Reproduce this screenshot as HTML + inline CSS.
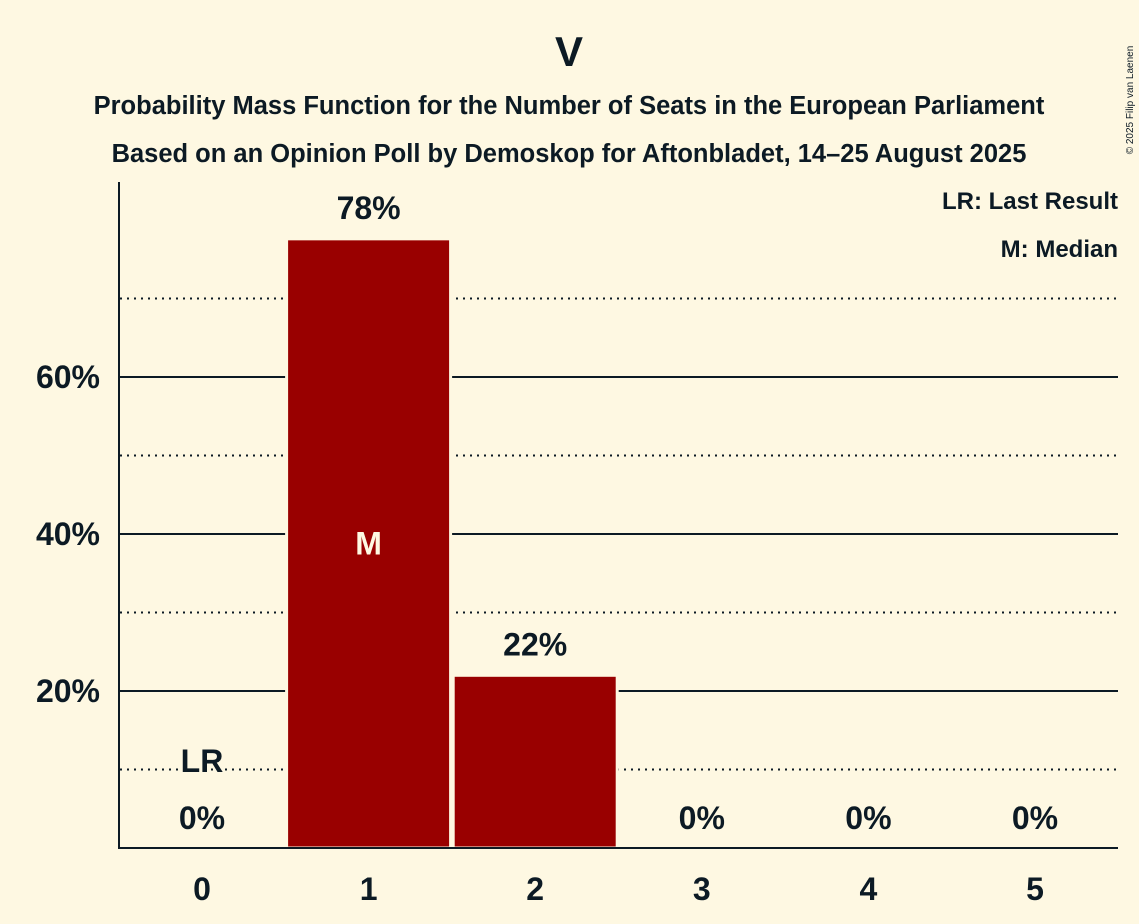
<!DOCTYPE html>
<html><head><meta charset="utf-8"><style>
body{margin:0;background:#fef8e2;}
svg{display:block;font-family:"Liberation Sans",sans-serif;font-weight:bold;fill:#0c1a24}
</style></head><body>
<svg id="c" width="1139" height="924">
<rect width="1139" height="924" fill="#fef8e2"/>
<text x="569" y="66" text-anchor="middle" font-size="42">V</text>
<text x="569" y="114" text-anchor="middle" font-size="25.5">Probability Mass Function for the Number of Seats in the European Parliament</text>
<text x="569" y="162" text-anchor="middle" font-size="25.5">Based on an Opinion Poll by Demoskop for Aftonbladet, 14–25 August 2025</text>
<text x="1118" y="209" text-anchor="end" font-size="24">LR: Last Result</text>
<text x="1118" y="257" text-anchor="end" font-size="24">M: Median</text>
<text x="1133" y="100" font-size="10" font-weight="normal" transform="rotate(-90 1133 100)" text-anchor="middle">© 2025 Filip van Laenen</text>
<g id="grid"></g><g id="bars"></g><g id="labels"></g>
<line x1="119" y1="182" x2="119" y2="849" stroke="#0c1a24" stroke-width="2"/>
<line x1="118" y1="848" x2="1118" y2="848" stroke="#0c1a24" stroke-width="2"/>
</svg>
<script>
const categories=[0,1,2,3,4,5];
const values=[0,77.6,22.0,0,0,0];
const valueLabels=["0%","78%","22%","0%","0%","0%"];
const yTicks=[20,40,60];
const yTickLabels=["20%","40%","60%"];
const dottedTicks=[10,30,50,70];
const lastResult=0, median=1;
const NS="http://www.w3.org/2000/svg";
const y=v=>848-v*7.85;
const x=c=>202+c*166.6;
const bw=164;
function mk(t,a,p){const e=document.createElementNS(NS,t);for(const k in a)e.setAttribute(k,a[k]);p.appendChild(e);return e;}
const g=document.getElementById('grid'),b=document.getElementById('bars'),l=document.getElementById('labels');
dottedTicks.forEach(v=>{const e=mk('line',{x1:120,x2:1118,y1:y(v),y2:y(v),stroke:'#0c1a24','stroke-width':2,'stroke-dasharray':'2,5'},g);

});
yTicks.forEach((v,i)=>{const e=mk('line',{x1:120,x2:1118,y1:y(v),y2:y(v),stroke:'#0c1a24','stroke-width':2},g);


const t=mk('text',{x:100,y:y(v)+11,'text-anchor':'end','font-size':32},l);t.textContent=yTickLabels[i];

});
categories.forEach((c,i)=>{
 if(values[i]>0){const r=mk('rect',{x:x(c)-bw/2,y:y(values[i]),width:bw,height:848-y(values[i]),fill:'#990000',stroke:'#fef8e2','stroke-width':3},b);
 
 }
 const vt=mk('text',{x:x(c),y:(values[i]>5?y(values[i])-20:829),'text-anchor':'middle','font-size':32},l);vt.textContent=valueLabels[i];
 
 
 const xt=mk('text',{x:x(c),y:900,'text-anchor':'middle','font-size':32},l);xt.textContent=c;
 
 
});
const lr=mk('text',{x:x(lastResult),y:772,'text-anchor':'middle','font-size':32},l);lr.textContent='LR';


const m=mk('text',{x:x(median),y:y(values[median]/2)+11,'text-anchor':'middle','font-size':32,fill:'#fef8e2'},l);m.textContent='M';


</script>
</body></html>
